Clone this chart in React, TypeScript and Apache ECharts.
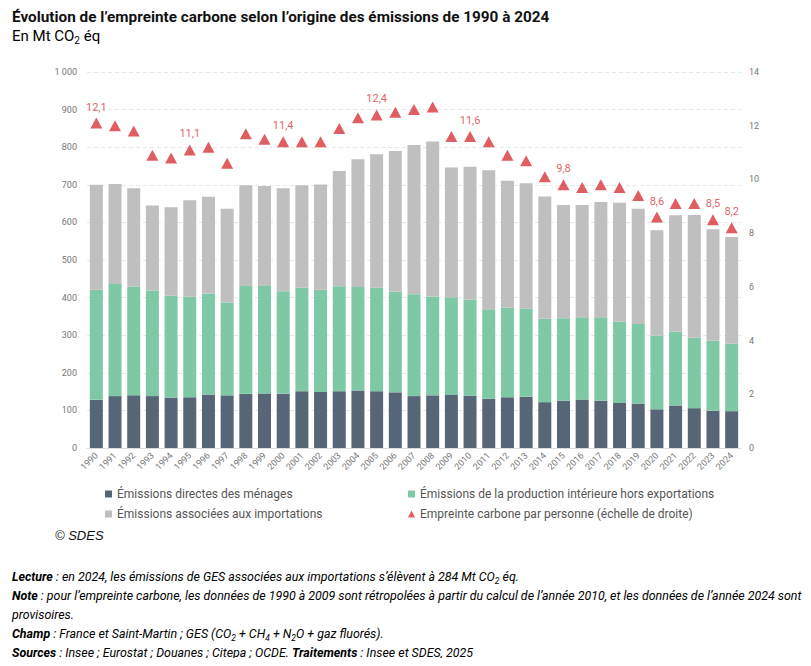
import React, { useEffect, useRef } from "react";
import * as echarts from "echarts";

const years = ["1990","1991","1992","1993","1994","1995","1996","1997","1998","1999","2000","2001","2002","2003","2004","2005","2006","2007","2008","2009","2010","2011","2012","2013","2014","2015","2016","2017","2018","2019","2020","2021","2022","2023","2024"];

const householdDirect = [128,138,140,138,134,135,142,140,144,145,144,151,149,151,153,151,148,138,140,141,139,131,135,136,122,126,129,126,120,118,103,113,106,99,98];
const domesticProduction = [293,298,289,281,271,267,268,247,287,288,273,275,272,279,275,275,268,271,263,260,255,238,238,235,222,219,219,222,216,212,196,196,187,186,179];
const imports = [279,266,262,226,235,257,258,249,268,264,274,273,280,307,340,355,374,397,412,345,354,370,338,333,325,301,298,306,316,306,280,310,327,297,284];
const perCapita = [12.1,12.0,11.8,10.9,10.8,11.1,11.2,10.6,11.7,11.5,11.4,11.4,11.4,11.9,12.3,12.4,12.5,12.6,12.7,11.6,11.6,11.4,10.9,10.7,10.1,9.8,9.7,9.8,9.7,9.4,8.6,9.1,9.1,8.5,8.2];
const labelledYears = ["1990","1995","2000","2005","2010","2015","2020","2023","2024"];

const leftTicks = { min: 0, max: 1000, interval: 100 };
const rightTicks = { min: 0, max: 14, interval: 2 };

const names = {
  dark: "Émissions directes des ménages",
  green: "Émissions de la production intérieure hors exportations",
  gray: "Émissions associées aux importations",
  red: "Empreinte carbone par personne (échelle de droite)",
};

const COLORS = { dark: "#566677", green: "#7fc8a5", gray: "#bfbfbf", red: "#d8363a" };

const FONT = "Roboto";

export default function App() {
  const ref = useRef<HTMLDivElement>(null);
  useEffect(() => {
    if (!ref.current) return;
    const chart = echarts.init(ref.current, undefined, { renderer: "svg" });
    const fmtComma = (v: number) => v.toFixed(1).replace(".", ",");
    const noteBase = { fontFamily: FONT, fontSize: 12.4, fontStyle: "italic", color: "#111", lineHeight: 19 };
    const rich = {
      b: { ...noteBase, fontWeight: "bold" },
      n: { ...noteBase },
      s: { ...noteBase, fontSize: 8.5, verticalAlign: "bottom", lineHeight: 16 },
    };
    const legendCommon = {
      orient: "vertical", top: 483, itemWidth: 7, itemHeight: 7, itemGap: 8, padding: 5,
      textStyle: { fontFamily: FONT, fontSize: 12, color: "#555" },
    };
    chart.setOption({
      animation: false,
      textStyle: { fontFamily: FONT },
      grid: { left: 87, right: 70, top: 72, bottom: 218, containLabel: false },
      legend: [
        {
          ...legendCommon, left: 100,
          data: [
            { name: names.dark, icon: "rect" },
            { name: names.gray, icon: "rect" },
          ],
        },
        {
          ...legendCommon, left: 403,
          data: [
            { name: names.green, icon: "rect" },
            { name: names.red, icon: "triangle" },
          ],
        },
      ],
      xAxis: {
        type: "category",
        data: years,
        axisLine: { lineStyle: { color: "#dddddd" } },
        axisTick: { show: false },
        axisLabel: { rotate: 45, fontSize: 9, color: "#777", margin: 6, fontFamily: FONT },
      },
      yAxis: [
        {
          type: "value", ...leftTicks,
          axisLine: { show: false }, axisTick: { show: false },
          axisLabel: {
            fontSize: 9, color: "#777", margin: 10, fontFamily: FONT,
            formatter: (v: number) => (v >= 1000 ? "1 000" : String(v)),
          },
          splitLine: { lineStyle: { color: "#e6e6e6", type: [4, 3] } },
        },
        {
          type: "value", ...rightTicks, position: "right",
          axisLine: { show: false }, axisTick: { show: false },
          axisLabel: { fontSize: 9, color: "#777", margin: 8, fontFamily: FONT },
          splitLine: { show: false },
        },
      ],
      series: [
        { name: names.dark, type: "bar", stack: "t", barWidth: 13, data: householdDirect, itemStyle: { color: COLORS.dark } },
        { name: names.green, type: "bar", stack: "t", barWidth: 13, data: domesticProduction, itemStyle: { color: COLORS.green } },
        { name: names.gray, type: "bar", stack: "t", barWidth: 13, data: imports, itemStyle: { color: COLORS.gray } },
        {
          name: names.red, type: "scatter", yAxisIndex: 1, symbol: "triangle", symbolSize: [12, 11],
          itemStyle: { color: COLORS.red },
          data: perCapita.map((v, i) => ({
            value: v,
            label: {
              show: labelledYears.includes(years[i]),
              position: "top", distance: 5, color: COLORS.red, fontSize: 11, fontFamily: FONT,
              formatter: () => fmtComma(v),
            },
          })),
        },
      ],
      graphic: [
        {
          type: "text", left: 12, top: 9,
          style: { text: "Évolution de l’empreinte carbone selon l’origine des émissions de 1990 à 2024", fontFamily: FONT, fontSize: 15.3, fontWeight: "bold", fill: "#111" },
        },
        {
          type: "text", left: 12, top: 28,
          style: {
            text: "{a|En Mt CO}{s|2}{a| éq}",
            rich: {
              a: { fontFamily: FONT, fontSize: 15, color: "#111", lineHeight: 20 },
              s: { fontFamily: FONT, fontSize: 10, color: "#111", verticalAlign: "bottom", lineHeight: 16 },
            },
          },
        },
        {
          type: "text", left: 55, top: 529,
          style: { text: "© SDES", fontFamily: "Liberation Sans", fontSize: 13, fontStyle: "italic", fill: "#111" },
        },
        {
          type: "text", left: 12, top: 570,
          style: {
            text: [
              "{b|Lecture}{n| : en 2024, les émissions de GES associées aux importations s’élèvent à 284 Mt CO}{s|2}{n| éq.}",
              "{b|Note}{n| : pour l’empreinte carbone, les données de 1990 à 2009 sont rétropolées à partir du calcul de l’année 2010, et les données de l’année 2024 sont}",
              "{n|provisoires.}",
              "{b|Champ}{n| : France et Saint-Martin ; GES (CO}{s|2}{n| + CH}{s|4}{n| + N}{s|2}{n|O + gaz fluorés).}",
              "{b|Sources}{n| : Insee ; Eurostat ; Douanes ; Citepa ; OCDE. }{b|Traitements}{n| : Insee et SDES, 2025}",
            ].join("\n"),
            rich,
          },
        },
      ],
    });
    return () => chart.dispose();
  }, []);
  return <div ref={ref} style={{ width: 811, height: 666, margin: -8 }} />;
}
